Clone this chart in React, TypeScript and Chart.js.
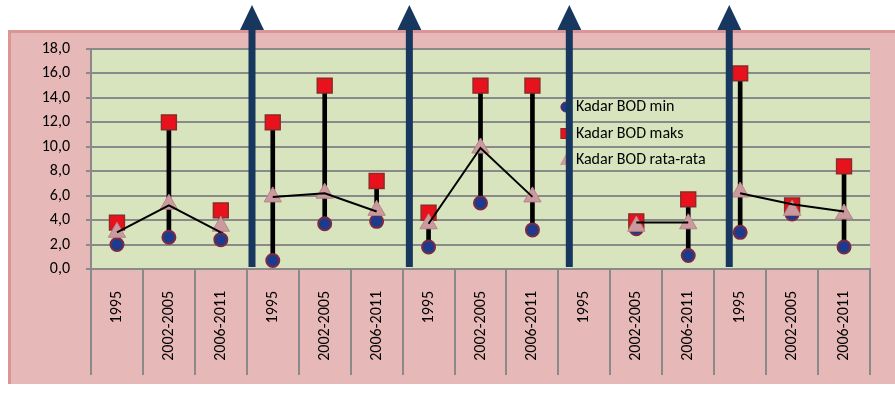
import React, { useEffect, useRef } from "react";
import { Chart, registerables } from "chart.js";

Chart.register(...registerables);

const categories = [
  "1995", "2002-2005", "2006-2011",
  "1995", "2002-2005", "2006-2011",
  "1995", "2002-2005", "2006-2011",
  "1995", "2002-2005", "2006-2011",
  "1995", "2002-2005", "2006-2011",
];
const groupOf = [0, 0, 0, 1, 1, 1, 2, 2, 2, 3, 3, 3, 4, 4, 4];
const bodMin = [2.0, 2.6, 2.4, 0.7, 3.7, 3.9, 1.8, 5.4, 3.2, null, 3.3, 1.1, 3.0, 4.5, 1.8];
const bodMax = [3.8, 12.0, 4.8, 12.0, 15.0, 7.2, 4.6, 15.0, 15.0, null, 3.9, 5.7, 16.0, 5.2, 8.4];
const bodAvg = [3.0, 5.3, 3.5, 5.9, 6.2, 4.8, 3.7, 9.9, 5.9, null, 3.5, 3.7, 6.3, 4.8, 4.5];
const avgLine = [3.0, 5.2, 3.0, 5.9, 6.2, 4.7, 3.7, 9.9, 5.9, null, 3.8, 3.8, 6.2, 5.3, 4.7];
const yTicks = { min: 0, max: 18, step: 2 };
const legendLabels = ["Kadar BOD min", "Kadar BOD maks", "Kadar BOD rata-rata"];
const arrowAt = [2.6, 5.63, 8.71, 11.79];

const PINK = "#E6B9B8";
const PINK_DARK = "#D99694";
const GREEN = "#D7E4BD";
const GRID = "#8a8a8a";
const NAVY = "#17375E";
const FONT = "Carlito, Lato, 'Open Sans', sans-serif";

const MIN_FILL = "#1c3b8c";
const MIN_BORDER = "#7a2a45";
const MAX_FILL = "#e8121c";
const MAX_BORDER = "#8e2a2a";
const AVG_FILL = "#cc9a9e";
const AVG_BORDER = "#b58688";

const bgPlugin = {
  id: "bgPlugin",
  beforeDraw(chart: any) {
    const { ctx, chartArea, width, height } = chart;
    ctx.save();
    ctx.fillStyle = "#ffffff";
    ctx.fillRect(0, 0, width, height);
    ctx.fillStyle = PINK;
    ctx.fillRect(8, 30, width - 8, 354);
    ctx.fillStyle = PINK_DARK;
    ctx.fillRect(8, 30, width - 8, 3);
    ctx.fillRect(8, 30, 3, 354);
    ctx.fillStyle = GREEN;
    ctx.fillRect(chartArea.left, chartArea.top, chartArea.right - chartArea.left, chartArea.bottom - chartArea.top);
    const xs = chart.scales.x;
    ctx.strokeStyle = GRID;
    ctx.lineWidth = 2;
    for (let i = 0; i <= categories.length; i++) {
      const px = Math.round(xs.getPixelForValue(i - 0.5));
      ctx.beginPath();
      ctx.moveTo(px, chartArea.bottom);
      ctx.lineTo(px, 375);
      ctx.stroke();
    }
    ctx.restore();
  },
};

const overlayPlugin = {
  id: "overlayPlugin",
  afterDraw(chart: any) {
    const { ctx, chartArea } = chart;
    const xs = chart.scales.x;
    const ys = chart.scales.y;
    ctx.save();
    const lx = chartArea.left + 0.625 * (chartArea.right - chartArea.left);
    const ly0 = chartArea.top + 58;
    const dy = 26.5;
    ctx.font = `16px ${FONT}`;
    ctx.textBaseline = "middle";
    ctx.textAlign = "left";
    legendLabels.forEach((lab, i) => {
      const y = ly0 + i * dy;
      const mx = lx - 12;
      ctx.lineWidth = 1;
      if (i === 0) {
        ctx.fillStyle = MIN_FILL;
        ctx.strokeStyle = MIN_BORDER;
        ctx.beginPath();
        ctx.arc(mx, y, 5, 0, Math.PI * 2);
        ctx.fill();
        ctx.stroke();
      } else if (i === 1) {
        ctx.fillStyle = MAX_FILL;
        ctx.strokeStyle = MAX_BORDER;
        ctx.fillRect(mx - 5, y - 5, 10, 10);
        ctx.strokeRect(mx - 5, y - 5, 10, 10);
      } else {
        ctx.fillStyle = AVG_FILL;
        ctx.beginPath();
        ctx.moveTo(mx, y - 6);
        ctx.lineTo(mx - 6, y + 5);
        ctx.lineTo(mx + 6, y + 5);
        ctx.closePath();
        ctx.fill();
      }
      ctx.fillStyle = "#000";
      ctx.fillText(lab, lx - 2, y);
    });
    const bottom = ys.getPixelForValue(0) - 2;
    ctx.fillStyle = NAVY;
    arrowAt.forEach((v) => {
      const x = xs.getPixelForValue(v);
      ctx.fillRect(x - 3.5, 29, 7, bottom - 29);
      ctx.beginPath();
      ctx.moveTo(x, 5);
      ctx.lineTo(x - 12, 30);
      ctx.lineTo(x + 12, 30);
      ctx.closePath();
      ctx.fill();
    });
    ctx.restore();
  },
};

export default function App() {
  const ref = useRef<HTMLCanvasElement>(null);
  useEffect(() => {
    if (!ref.current) return;
    const chart = new Chart(ref.current, {
      type: "bar",
      data: {
        labels: categories,
        datasets: [
          {
            type: "bar",
            label: "range",
            data: bodMin.map((m, i) => (m === null || bodMax[i] === null ? null : [m, bodMax[i]])) as any,
            backgroundColor: "#000",
            barThickness: 4,
            order: 5,
          },
          {
            type: "line",
            label: legendLabels[0],
            data: bodMin as any,
            showLine: false,
            pointStyle: "circle",
            pointRadius: 6.5,
            pointBackgroundColor: MIN_FILL,
            pointBorderColor: MIN_BORDER,
            pointBorderWidth: 2,
            order: 4,
          },
          {
            type: "line",
            label: legendLabels[1],
            data: bodMax as any,
            showLine: false,
            pointStyle: "rect",
            pointRadius: 10.5,
            pointBackgroundColor: MAX_FILL,
            pointBorderColor: MAX_BORDER,
            pointBorderWidth: 1.5,
            order: 3,
          },
          {
            type: "line",
            label: legendLabels[2],
            data: bodAvg as any,
            showLine: false,
            pointStyle: "triangle",
            pointRadius: 10,
            pointBackgroundColor: AVG_FILL,
            pointBorderColor: AVG_BORDER,
            pointBorderWidth: 1,
            order: 2,
          },
          {
            type: "line",
            label: "avg line",
            data: avgLine as any,
            borderColor: "#000",
            borderWidth: 2,
            pointRadius: 0,
            spanGaps: false,
            segment: {
              borderColor: (c: any) =>
                groupOf[c.p0DataIndex] !== groupOf[c.p1DataIndex] ? "rgba(0,0,0,0)" : "#000",
            },
            order: 1,
          },
        ],
      },
      options: {
        responsive: false,
        animation: false,
        events: [],
        layout: { padding: { left: 0, right: 25, top: 49, bottom: 0 } },
        plugins: { legend: { display: false }, tooltip: { enabled: false } },
        scales: {
          x: {
            offset: true,
            grid: { display: false },
            border: { display: true, color: GRID, width: 2 },
            ticks: {
              autoSkip: false,
              minRotation: 90,
              maxRotation: 90,
              padding: 14,
              color: "#000",
              font: { family: FONT, size: 16 },
            },
            afterFit: (s: any) => {
              s.height = 125;
            },
          },
          y: {
            min: yTicks.min,
            max: yTicks.max,
            grid: { color: GRID, lineWidth: 2, tickLength: 5, tickColor: GRID },
            border: { display: true, color: GRID, width: 2 },
            ticks: {
              stepSize: yTicks.step,
              padding: 16,
              color: "#000",
              font: { family: FONT, size: 16 },
              callback: (v: any) => Number(v).toFixed(1).replace(".", ","),
            },
            afterFit: (s: any) => {
              s.width = 91;
            },
          },
        },
      },
      plugins: [bgPlugin, overlayPlugin],
    } as any);
    return () => chart.destroy();
  }, []);
  return (
    <div style={{ position: "absolute", left: 0, top: 0, width: 895, height: 394 }}>
      <canvas ref={ref} width={895} height={394} />
    </div>
  );
}
